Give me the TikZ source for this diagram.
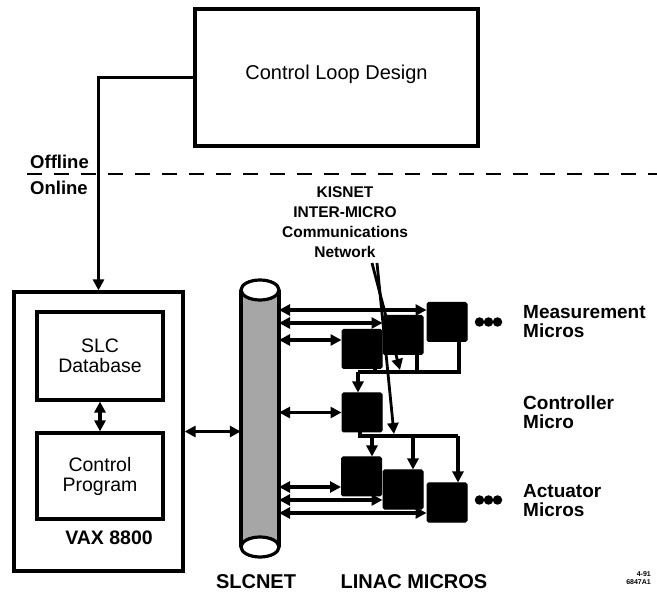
\documentclass[tikz,border=0pt]{standalone}
\usepackage{fontspec}
\setmainfont{Liberation Sans}
\usetikzlibrary{arrows.meta}
\begin{document}
\begin{tikzpicture}[x=1pt,y=-1pt,
  wire/.style={line width=3.2pt},
  arr/.style={wire,-{Triangle[length=11pt,width=11pt]}},
  darr/.style={wire,{Triangle[length=11pt,width=11pt]}-{Triangle[length=11pt,width=11pt]}},
  box/.style={draw,line width=3.2pt,inner sep=0pt,align=center},
  micro/.style={fill=black,draw=black,line width=1pt,rounded corners=1.5pt,minimum width=40pt,minimum height=39pt,inner sep=0pt},
  lbl/.style={font=\fontsize{19}{19}\selectfont\bfseries,align=left,anchor=west,inner sep=0pt},
  dot/.style={circle,fill=black,minimum size=9.5pt,inner sep=0pt},
]
\useasboundingbox (0,0) rectangle (657,596);

% Control loop design box
\node[box,minimum width=283pt,minimum height=137pt] (cld) at (336.5,77.5) {};
\node[font=\fontsize{20}{22}\selectfont,inner sep=0pt] (cldt) at (336.5,74) {Control Loop Design};

% Offline / online divider
\coordinate (dl) at (27,174);
\coordinate (dr) at (657,174);
\draw[line width=2.8pt,dash pattern=on 15pt off 12pt] (dl) -- (dr);
\node[font=\fontsize{18.5}{19}\selectfont\bfseries,anchor=west,inner sep=0pt] (off) at (30,162) {Offline};
\node[font=\fontsize{18.5}{19}\selectfont\bfseries,anchor=west,inner sep=0pt] (on) at (30,188) {Online};

% VAX
\node[box,minimum width=169pt,minimum height=279pt] (vax) at (98.5,431.5) {};
\node[box,minimum width=126pt,minimum height=88pt,font=\fontsize{19.5}{20}\selectfont] (db) at (100,356) {SLC\\Database};
\node[box,minimum width=126pt,minimum height=86pt,font=\fontsize{19.5}{20}\selectfont] (cp) at (100,476) {Control\\Program};
\node[font=\fontsize{19.5}{20}\selectfont\bfseries,inner sep=0pt] (vaxl) at (109,538) {VAX 8800};

\draw[arr] (cld.west) -| (vax.north);
\draw[darr] (db.south) -- (cp.north);

% SLCNET cylinder
\fill[black!35] (241,290) rectangle (279,547);
\draw[wire] (241,290) -- (241,547);
\draw[wire] (279,290) -- (279,547);
\draw[wire,fill=white] (260,290) ellipse [x radius=19, y radius=10];
\draw[wire,fill=white] (260,547) ellipse [x radius=19, y radius=10];
\node[minimum width=38pt,minimum height=257pt,inner sep=0pt] (slc) at (260,418.5) {};

\draw[darr] (vax.east) -- (vax.east -| slc.west);

% micros
\node[micro] (m1) at (362,349) {};
\node[micro] (m2) at (403,335) {};
\node[micro] (m3) at (447,322) {};
\node[micro] (ctl) at (362,412.5) {};
\node[micro] (a1) at (361.5,476.5) {};
\node[micro] (a2) at (403,489.5) {};
\node[micro] (a3) at (447,502.5) {};

% SLCNET <-> micros
\coordinate (s1) at (279,310);
\coordinate (s2) at (279,323);
\coordinate (s3) at (279,340);
\coordinate (s4) at (279,412.5);
\coordinate (s5) at (279,487);
\coordinate (s6) at (279,500);
\coordinate (s7) at (279,513);
\draw[darr] (s1) -- (s1 -| m3.west);
\draw[darr] (s2) -- (s2 -| m2.west);
\draw[darr] (s3) -- (s3 -| m1.west);
\draw[darr] (s4) -- (ctl.west);
\draw[darr] (s5) -- (s5 -| a1.west);
\draw[darr] (s6) -- (s6 -| a2.west);
\draw[darr] (s7) -- (s7 -| a3.west);

% measurement bus
\coordinate (bA) at (358,372);
\coordinate (bA3) at (459,372);
\draw[wire] (m3.south -| bA3) -- (bA3) -- (bA);
\draw[wire] (m2.south -| 417,0) -- (417,372);
\draw[wire] (m1.south -| 375,0) -- (375,372);
\draw[arr] (bA) -- (bA |- ctl.north);

% actuator bus
\coordinate (bB) at (360,436);
\coordinate (bB3) at (458,436);
\draw[wire] (ctl.south -| bB) -- (bB) -- (bB3);
\draw[arr] (372,436) -- (a1.north -| 372,0);
\draw[arr] (413,436) -- (a2.north -| 413,0);
\draw[arr] (bB3) -- (a3.north -| bB3);

% KISNET label and pointers
\node[font=\fontsize{15.5}{20}\selectfont\bfseries,align=center,inner sep=0pt] (kis) at (345,222) {KISNET\\INTER-MICRO\\Communications\\Network};
\coordinate (pA) at (372,263);
\coordinate (pB) at (377,263);
\coordinate (tA) at (400,370);
\coordinate (tB) at (394,434);
\draw[arr,line width=2.8pt] (pA) -- (tA);
\draw[arr,line width=2.8pt] (pB) -- (tB);

% dots and labels
\node[dot] (d1) at (479.5,322) {};
\node[dot] (d2) at (488.5,322) {};
\node[dot] (d3) at (497.5,322) {};
\node[dot] (e1) at (479.5,500) {};
\node[dot] (e2) at (488.5,500) {};
\node[dot] (e3) at (497.5,500) {};
\node[lbl] (ml) at (523,322) {Measurement\\Micros};
\node[lbl] (cl) at (523,412) {Controller\\Micro};
\node[lbl] (al) at (523,501) {Actuator\\Micros};

\node[font=\fontsize{20}{22}\selectfont\bfseries,inner sep=0pt] (slcl) at (256,582) {SLCNET};
\node[font=\fontsize{20}{22}\selectfont\bfseries,inner sep=0pt] (linl) at (414,582) {LINAC MICROS};
\node[font=\fontsize{7}{8}\selectfont\bfseries,align=right,anchor=east,inner sep=0pt] (code) at (651,578) {4-91\\6847A1};
\end{tikzpicture}
\end{document}
